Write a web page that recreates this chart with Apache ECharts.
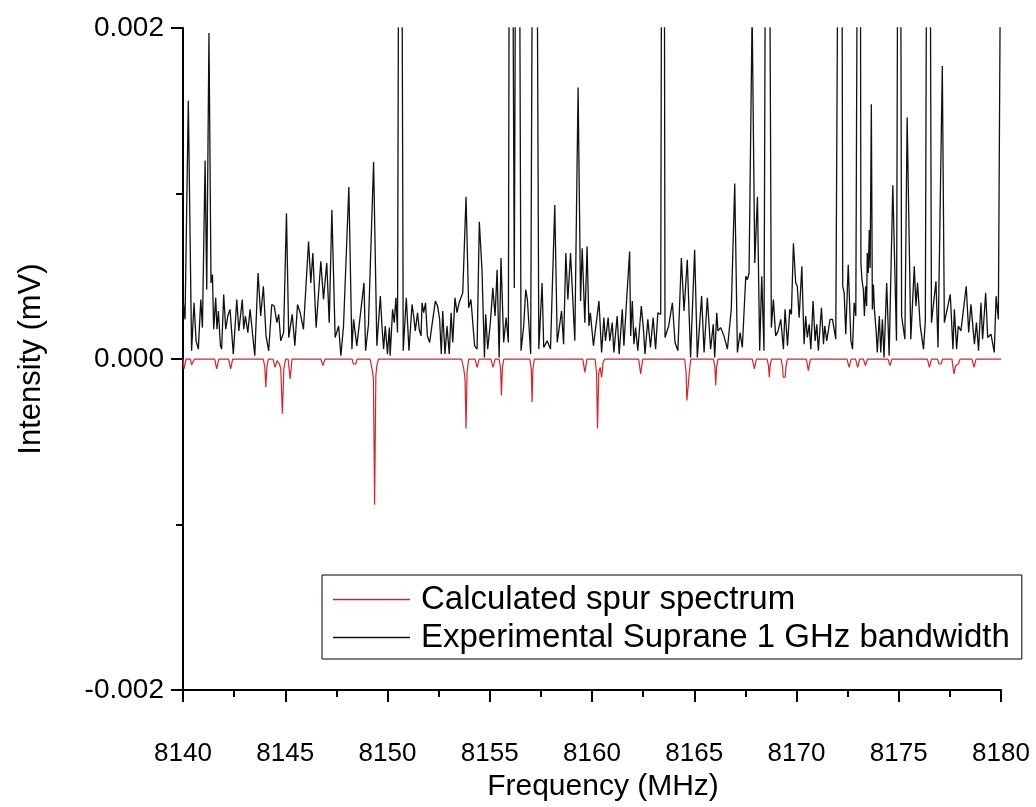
<!DOCTYPE html>
<html>
<head>
<meta charset="utf-8">
<script src="https://cdn.jsdelivr.net/npm/echarts@6/dist/echarts.min.js"></script>
<style>
  html, body { margin: 0; padding: 0; background: #fff; overflow: hidden; }
  #chart { width: 1036px; height: 807px; }
</style>
</head>
<body>
<div id="chart"></div>
<script>
// ---------- DATA ----------
// x tick values (MHz) and y tick values (mV)
const xTicks = [8140, 8145, 8150, 8155, 8160, 8165, 8170, 8175, 8180];
const yTicks = [-0.002, 0.000, 0.002];

const seriesNames = ['Calculated spur spectrum', 'Experimental Suprane 1 GHz bandwidth'];

// Experimental trace: [frequency MHz, intensity in 1e-3 mV]
const experimental = [
  [8140.00,0.30],[8140.02,0.34],[8140.10,0.24],[8140.26,1.56],[8140.42,0.05],[8140.54,0.34],[8140.64,0.11],
  [8140.75,0.06],[8140.87,0.36],[8140.95,0.19],[8141.08,1.20],[8141.16,0.42],[8141.27,1.97],[8141.37,0.46],
  [8141.44,0.51],[8141.50,0.18],[8141.60,0.37],[8141.66,0.18],[8141.73,0.29],[8141.83,0.08],[8141.89,0.06],
  [8141.99,0.39],[8142.09,0.18],[8142.19,0.26],[8142.30,0.30],[8142.46,0.03],[8142.63,0.36],[8142.73,0.17],
  [8142.90,0.36],[8142.97,0.18],[8143.05,0.26],[8143.17,0.16],[8143.28,0.30],[8143.51,0.02],[8143.67,0.52],
  [8143.80,0.26],[8143.93,0.44],[8144.06,0.14],[8144.19,0.05],[8144.34,0.33],[8144.46,0.32],[8144.59,0.22],
  [8144.68,0.27],[8144.78,0.11],[8144.92,0.16],[8145.06,0.88],[8145.17,0.13],[8145.34,0.27],[8145.47,0.08],
  [8145.60,0.33],[8145.73,0.28],[8145.89,0.18],[8146.14,0.71],[8146.25,0.46],[8146.35,0.64],[8146.51,0.19],
  [8146.74,0.59],[8146.87,0.36],[8147.03,0.58],[8147.15,0.22],[8147.28,0.90],[8147.44,0.13],[8147.61,0.20],
  [8147.72,0.02],[8147.85,0.20],[8148.11,1.04],[8148.26,0.06],[8148.34,0.24],[8148.50,0.08],[8148.85,0.46],
  [8148.93,0.05],[8149.07,0.21],[8149.32,1.19],[8149.48,0.08],[8149.65,0.38],[8149.73,0.20],[8149.81,0.06],
  [8149.89,0.20],[8150.00,0.03],[8150.09,0.19],[8150.13,0.02],[8150.25,0.30],[8150.33,0.22],[8150.41,0.37],
  [8150.49,0.16],[8150.62,6.0],[8150.77,0.05],[8150.92,0.37],[8151.05,0.05],[8151.20,0.33],[8151.28,0.26],
  [8151.36,0.17],[8151.47,0.28],[8151.55,0.18],[8151.64,0.14],[8151.69,0.34],[8151.77,0.28],[8151.86,0.34],
  [8151.95,0.14],[8152.06,0.10],[8152.17,0.20],[8152.34,0.35],[8152.45,0.32],[8152.55,0.24],[8152.63,0.03],
  [8152.70,0.29],[8152.81,0.03],[8152.91,0.20],[8153.02,0.03],[8153.11,0.28],[8153.19,0.10],[8153.30,0.37],
  [8153.40,0.28],[8153.50,0.34],[8153.68,0.40],[8153.84,0.98],[8153.97,0.31],[8154.08,0.36],[8154.26,0.08],
  [8154.38,0.06],[8154.49,0.83],[8154.62,0.54],[8154.74,0.01],[8154.80,0.27],[8154.90,0.06],[8155.03,0.22],
  [8155.15,0.43],[8155.26,0.26],[8155.36,0.54],[8155.46,0.01],[8155.55,0.61],[8155.68,0.10],[8155.80,0.25],
  [8155.91,0.10],[8156.01,6.0],[8156.20,0.43],[8156.36,6.0],[8156.53,0.05],[8156.66,0.20],[8156.76,0.42],
  [8156.84,0.36],[8156.92,0.20],[8157.00,0.03],[8157.20,6.0],[8157.40,0.06],[8157.56,0.46],[8157.64,0.07],
  [8157.81,0.11],[8157.97,0.06],[8158.05,0.07],[8158.18,0.93],[8158.30,0.10],[8158.38,0.11],[8158.51,0.29],
  [8158.61,0.09],[8158.72,0.64],[8158.82,0.36],[8158.95,0.64],[8159.16,0.11],[8159.32,1.64],[8159.44,0.35],
  [8159.52,0.67],[8159.65,0.22],[8159.76,0.68],[8159.85,0.20],[8159.92,0.28],[8160.07,0.08],[8160.34,0.35],
  [8160.47,0.04],[8160.58,0.25],[8160.66,0.11],[8160.79,0.25],[8160.87,0.11],[8160.99,0.22],[8161.07,0.04],
  [8161.23,0.26],[8161.33,0.03],[8161.48,0.30],[8161.56,0.08],[8161.69,0.35],[8161.84,0.65],[8161.89,0.14],
  [8161.97,0.35],[8162.05,0.09],[8162.13,0.19],[8162.24,0.05],[8162.41,0.32],[8162.51,0.19],[8162.59,0.03],
  [8162.73,0.24],[8162.86,0.07],[8162.99,0.25],[8163.11,0.06],[8163.22,0.28],[8163.36,0.27],[8163.48,7.0],
  [8163.57,0.13],[8163.75,0.20],[8163.93,0.34],[8164.06,0.10],[8164.20,0.05],[8164.37,0.61],[8164.50,0.29],
  [8164.66,0.60],[8164.82,0.01],[8165.02,0.66],[8165.15,0.01],[8165.36,0.38],[8165.48,0.04],[8165.64,0.37],
  [8165.80,0.06],[8165.93,0.21],[8166.00,0.01],[8166.10,0.28],[8166.16,0.17],[8166.29,0.19],[8166.45,0.14],
  [8166.62,0.06],[8166.81,0.30],[8166.98,1.06],[8167.11,0.04],[8167.24,0.16],[8167.35,0.07],[8167.52,0.50],
  [8167.60,0.48],[8167.68,0.52],[8167.83,2.10],[8167.96,0.58],[8168.09,0.98],[8168.20,0.05],[8168.30,0.50],
  [8168.41,0.05],[8168.57,6.0],[8168.77,0.19],[8168.87,0.36],[8168.98,0.14],[8169.10,0.17],[8169.23,0.24],
  [8169.36,0.06],[8169.44,0.30],[8169.56,0.08],[8169.67,0.30],[8169.75,0.27],[8169.85,0.70],[8169.96,0.46],
  [8170.04,0.44],[8170.13,0.25],[8170.26,0.56],[8170.37,0.09],[8170.45,0.26],[8170.53,0.13],[8170.62,0.21],
  [8170.70,0.06],[8170.81,0.35],[8170.91,0.11],[8170.99,0.21],[8171.07,0.05],[8171.22,0.31],[8171.32,0.09],
  [8171.38,0.20],[8171.48,0.11],[8171.64,0.24],[8171.76,0.24],[8171.92,0.12],[8172.00,0.11],[8172.17,6.0],
  [8172.26,0.44],[8172.33,0.40],[8172.41,0.15],[8172.53,0.57],[8172.66,0.11],[8172.74,0.06],[8172.82,0.34],
  [8172.90,0.26],[8173.08,6.0],[8173.15,0.58],[8173.20,0.48],[8173.27,0.42],[8173.32,0.26],[8173.38,0.44],
  [8173.43,0.32],[8173.46,0.64],[8173.51,0.52],[8173.56,0.78],[8173.60,0.55],[8173.66,1.54],[8173.71,0.30],
  [8173.76,0.45],[8173.81,0.30],[8173.90,0.16],[8173.95,0.04],[8174.05,0.26],[8174.12,0.04],[8174.20,0.24],
  [8174.28,0.01],[8174.41,0.46],[8174.53,0.02],[8174.71,1.05],[8174.89,0.11],[8175.03,6.0],[8175.14,0.26],
  [8175.30,0.12],[8175.41,1.46],[8175.59,0.12],[8175.76,0.56],[8175.84,0.32],[8175.92,0.46],[8176.05,0.20],
  [8176.21,0.06],[8176.30,0.23],[8176.45,6.0],[8176.60,0.22],[8176.82,0.47],[8176.92,0.07],[8177.13,1.77],
  [8177.23,0.22],[8177.52,0.39],[8177.65,0.06],[8177.72,0.30],[8177.83,0.06],[8177.91,0.20],[8178.04,0.17],
  [8178.30,0.44],[8178.42,0.16],[8178.53,0.33],[8178.70,0.09],[8178.80,0.22],[8178.90,0.05],[8179.02,0.34],
  [8179.10,0.12],[8179.25,0.40],[8179.35,0.13],[8179.51,0.15],[8179.67,0.04],[8179.76,0.38],[8179.87,0.24],
  [8180.00,3.0]
];

// Calculated spur spectrum: [frequency MHz, intensity in 1e-3 mV]
const calculated = [
  [8140.00,0],[8140.05,-0.06],[8140.15,0],
  [8140.36,0],[8140.42,-0.035],[8140.50,-0.035],[8140.56,0],
  [8141.55,0],[8141.65,-0.06],[8141.75,0],
  [8142.23,0],[8142.33,-0.06],[8142.43,0],
  [8143.93,0],[8144.00,-0.05],[8144.05,-0.17],[8144.10,-0.05],[8144.17,0],
  [8144.40,0],[8144.50,-0.05],[8144.60,-0.01],[8144.72,-0.03],[8144.78,-0.06],[8144.86,-0.33],[8144.93,-0.06],[8145.02,0],
  [8145.14,0],[8145.24,-0.12],[8145.33,0],
  [8146.74,0],[8146.84,-0.04],[8146.94,0],
  [8148.27,0],[8148.33,-0.03],[8148.45,-0.03],[8148.51,0],
  [8149.15,0],[8149.26,-0.07],[8149.31,-0.12],[8149.37,-0.88],[8149.43,-0.10],[8149.48,-0.04],[8149.56,0],
  [8153.62,0],[8153.73,-0.06],[8153.79,-0.12],[8153.84,-0.42],[8153.89,-0.08],[8153.97,0],
  [8154.28,0],[8154.38,-0.05],[8154.48,0],
  [8155.06,0],[8155.16,-0.05],[8155.26,0],
  [8155.46,0],[8155.53,-0.06],[8155.57,-0.22],[8155.62,-0.05],[8155.69,0],
  [8156.96,0],[8157.03,-0.06],[8157.07,-0.26],[8157.11,-0.06],[8157.18,0],
  [8159.55,0],[8159.65,-0.08],[8159.75,0],
  [8160.15,0],[8160.22,-0.08],[8160.27,-0.42],[8160.33,-0.08],[8160.40,-0.05],[8160.47,-0.11],[8160.54,-0.02],[8160.62,0],
  [8162.28,0],[8162.38,-0.09],[8162.48,0],
  [8164.53,0],[8164.60,-0.08],[8164.64,-0.25],[8164.72,-0.25],[8164.76,-0.08],[8164.83,0],
  [8165.94,0],[8166.01,-0.05],[8166.05,-0.16],[8166.09,-0.05],[8166.16,0],
  [8167.84,0],[8167.94,-0.06],[8168.04,0],
  [8168.56,0],[8168.63,-0.04],[8168.67,-0.11],[8168.71,-0.04],[8168.78,0],
  [8169.25,0],[8169.32,-0.05],[8169.35,-0.11],[8169.45,-0.11],[8169.48,-0.05],[8169.55,0],
  [8170.48,0],[8170.58,-0.07],[8170.68,0],
  [8172.47,0],[8172.57,-0.05],[8172.67,0],
  [8172.89,0],[8172.99,-0.05],[8173.09,0],
  [8173.27,0],[8173.37,-0.04],[8173.47,0],
  [8174.47,0],[8174.57,-0.04],[8174.67,0],
  [8176.40,0],[8176.50,-0.05],[8176.60,0],
  [8176.90,0],[8176.97,-0.03],[8177.07,-0.03],[8177.14,0],
  [8177.60,0],[8177.70,-0.09],[8177.78,-0.04],[8177.91,-0.03],[8178.00,0],
  [8178.58,0],[8178.68,-0.05],[8178.78,0],
  [8180.00,0]
];

// ---------- CHART ----------
const toMV = arr => arr.map(p => [p[0], p[1] / 1000]);
const FONT = "'Liberation Sans', Arial, Helvetica, sans-serif";

const chart = echarts.init(document.getElementById('chart'), null, { renderer: 'canvas' });
chart.setOption({
  animation: false,
  backgroundColor: '#ffffff',
  grid: { left: 183, right: 35, top: 28, bottom: 107, containLabel: false },
  legend: {
    data: seriesNames,
    orient: 'vertical',
    left: 322,
    top: 575,
    icon: 'rect',
    itemWidth: 77,
    itemHeight: 1.4,
    itemGap: 5,
    padding: [8, 12, 5, 11],
    borderColor: '#000',
    borderWidth: 1,
    backgroundColor: '#fff',
    selectedMode: false,
    textStyle: { fontFamily: FONT, fontSize: 33, color: '#000', padding: [0, 0, 0, 6] }
  },
  xAxis: {
    type: 'value',
    min: xTicks[0],
    max: xTicks[xTicks.length - 1],
    interval: xTicks[1] - xTicks[0],
    name: 'Frequency (MHz)',
    nameLocation: 'middle',
    nameGap: 72,
    nameTextStyle: { fontFamily: FONT, fontSize: 30, color: '#000', padding: [0, 0, 0, 22] },
    axisLine: { onZero: false, lineStyle: { color: '#000', width: 2 } },
    axisTick: { show: true, length: 12, lineStyle: { color: '#000', width: 2 } },
    minorTick: { show: true, splitNumber: 2, length: 7, lineStyle: { color: '#000', width: 2 } },
    splitLine: { show: false },
    axisLabel: {
      fontFamily: FONT, fontSize: 26, color: '#000', margin: 51,
      formatter: v => String(v)
    }
  },
  yAxis: {
    type: 'value',
    min: yTicks[0],
    max: yTicks[yTicks.length - 1],
    interval: yTicks[1] - yTicks[0],
    name: 'Intensity (mV)',
    nameLocation: 'middle',
    nameGap: 136,
    nameTextStyle: { fontFamily: FONT, fontSize: 31, color: '#000' },
    axisLine: { show: true, onZero: false, lineStyle: { color: '#000', width: 2 } },
    axisTick: { show: true, length: 12, lineStyle: { color: '#000', width: 2 } },
    minorTick: { show: true, splitNumber: 2, length: 7, lineStyle: { color: '#000', width: 2 } },
    splitLine: { show: false },
    axisLabel: {
      fontFamily: FONT, fontSize: 28, color: '#000', margin: 19,
      formatter: v => v.toFixed(3)
    }
  },
  series: [
    {
      name: seriesNames[0],
      type: 'line',
      data: toMV(calculated),
      showSymbol: false,
      symbol: 'none',
      clip: true,
      z: 2,
      lineStyle: { color: '#d9232b', width: 1.2 },
      itemStyle: { color: '#d9232b' }
    },
    {
      name: seriesNames[1],
      type: 'line',
      data: toMV(experimental),
      showSymbol: false,
      symbol: 'none',
      clip: true,
      z: 3,
      lineStyle: { color: '#111', width: 1.3 },
      itemStyle: { color: '#111' }
    }
  ]
});
</script>
</body>
</html>
